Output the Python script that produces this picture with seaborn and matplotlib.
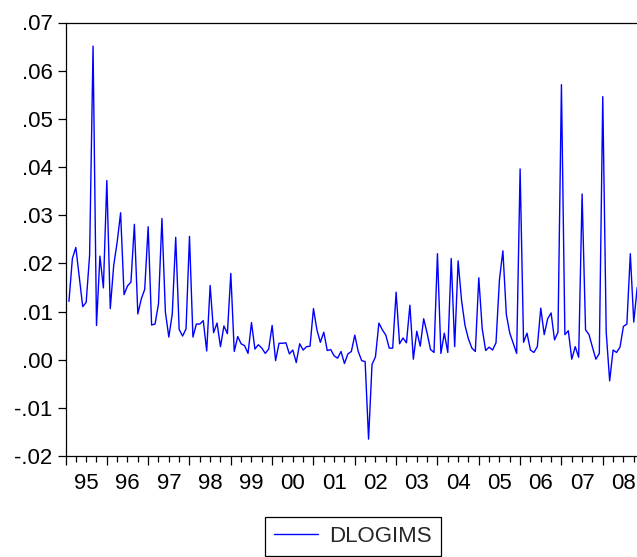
import numpy as np
import pandas as pd
import matplotlib
matplotlib.use("Agg")
import matplotlib.pyplot as plt
import seaborn as sns

# ---- data (monthly, 1995M02 onwards) ----
start_year = 1995
start_month = 2
dlogims = [
    0.0121, 0.0210, 0.0233, 0.0172, 0.0110, 0.0119, 0.0217, 0.0651, 0.0071, 0.0215, 0.0149,
    0.0372, 0.0106, 0.0196, 0.0244, 0.0305, 0.0135, 0.0153, 0.0161, 0.0281, 0.0095, 0.0126, 0.0146,
    0.0276, 0.0072, 0.0074, 0.0116, 0.0293, 0.0099, 0.0047, 0.0095, 0.0254, 0.0063, 0.0049, 0.0064,
    0.0256, 0.0047, 0.0074, 0.0074, 0.0081, 0.0018, 0.0154, 0.0056, 0.0076, 0.0027, 0.0070, 0.0054,
    0.0179, 0.0017, 0.0048, 0.0033, 0.0029, 0.0013, 0.0077, 0.0022, 0.0031, 0.0024, 0.0013, 0.0022,
    0.0071, -0.0002, 0.0034, 0.0034, 0.0035, 0.0012, 0.0020, -0.0006, 0.0033, 0.0020, 0.0027, 0.0028,
    0.0106, 0.0062, 0.0036, 0.0057, 0.0019, 0.0021, 0.0008, 0.0003, 0.0017, -0.0008, 0.0012, 0.0017,
    0.0051, 0.0017, -0.0002, -0.0004, -0.0165, -0.0010, 0.0006, 0.0076, 0.0062, 0.0051, 0.0024, 0.0024,
    0.0140, 0.0033, 0.0045, 0.0035, 0.0113, 0.0001, 0.0059, 0.0028, 0.0085, 0.0055, 0.0021, 0.0015,
    0.0220, 0.0013, 0.0055, 0.0015, 0.0210, 0.0027, 0.0205, 0.0123, 0.0071, 0.0043, 0.0024, 0.0017,
    0.0170, 0.0064, 0.0019, 0.0026, 0.0020, 0.0035, 0.0166, 0.0226, 0.0094, 0.0055, 0.0034, 0.0013,
    0.0396, 0.0036, 0.0055, 0.0020, 0.0015, 0.0027, 0.0107, 0.0052, 0.0085, 0.0097, 0.0041, 0.0057,
    0.0571, 0.0052, 0.0060, 0.0001, 0.0027, 0.0005, 0.0344, 0.0062, 0.0052, 0.0026, 0.0001, 0.0013,
    0.0546, 0.0057, -0.0044, 0.0020, 0.0015, 0.0026, 0.0069, 0.0074, 0.0220, 0.0078, 0.0150,
]
years = list(range(1995, 2009))
year_labels = [f"{y % 100:02d}" for y in years]
y_ticks = [-0.02, -0.01, 0.00, 0.01, 0.02, 0.03, 0.04, 0.05, 0.06, 0.07]
series_name = "DLOGIMS"

dates = pd.date_range(f"{start_year}-{start_month:02d}-01", periods=len(dlogims), freq="MS")
month_idx = (dates.year - start_year) * 12 + (dates.month - 1)
df = pd.DataFrame({"t": month_idx, series_name: dlogims})

sns.set_theme(style="ticks")
plt.rcParams["font.family"] = ["Liberation Sans", "DejaVu Sans"]
FS = 16

W, H = 637, 557
fig = plt.figure(figsize=(W / 100, H / 100), dpi=100)
fig.patch.set_facecolor("white")

px_per_month = 3.444
left_px, top_px, bottom_px = 65.5, 22.5, 456.0
n_months_axis = 168
ax = fig.add_axes([left_px / W, (H - bottom_px) / H,
                   n_months_axis * px_per_month / W, (bottom_px - top_px) / H])
ax.set_facecolor("white")

sns.lineplot(data=df, x="t", y=series_name, ax=ax, color="#0000ff", linewidth=1.0,
             label=series_name)

ax.set_xlabel("")
ax.set_ylabel("")

for s in ax.spines.values():
    s.set_color("black")
    s.set_linewidth(0.9)
    s.set_visible(True)

# y axis
ax.set_yticks(y_ticks)
ax.set_yticklabels([(f"{v:.2f}").replace("0.", ".") for v in y_ticks], fontsize=FS)
ax.tick_params(axis="y", direction="out", length=6, width=0.9, pad=3.2, colors="black")

# x axis: year boundaries (major), quarters (minor)
ax.set_xticks([12 * k for k in range(len(years) + 1)])
ax.set_xticklabels([])
ax.set_xticks([3 * k for k in range(4 * len(years) + 1)], minor=True)
ax.tick_params(axis="x", which="major", direction="out", length=6.7, width=0.9, colors="black")
ax.tick_params(axis="x", which="minor", direction="out", length=4.5, width=0.9, colors="black")

ax.set_xlim(0, n_months_axis)
ax.set_ylim(y_ticks[0], y_ticks[-1])

sec = ax.secondary_xaxis("bottom")
sec.set_xticks([12 * k + 6 for k in range(len(years))])
sec.set_xticklabels(year_labels, fontsize=FS)
sec.tick_params(length=0, pad=12.5, colors="black")
sec.spines["bottom"].set_visible(False)

leg = ax.legend(loc="upper center", bbox_to_anchor=(0.497, -0.14), fontsize=FS,
                frameon=True, fancybox=False, edgecolor="black", framealpha=1,
                borderpad=0.42, handlelength=2.0, handletextpad=0.5, borderaxespad=0)
leg.get_frame().set_linewidth(0.9)

ax.grid(False)
fig.savefig("out.png", dpi=100, facecolor="white")
